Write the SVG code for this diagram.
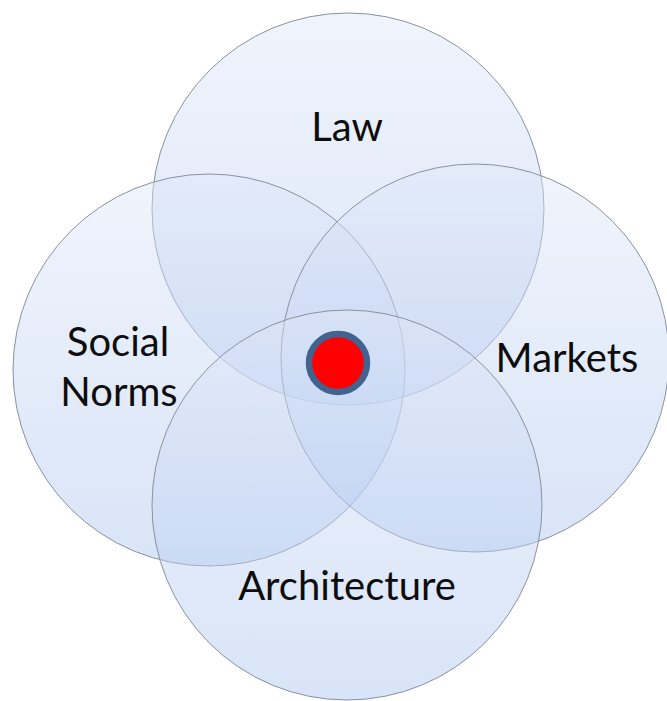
<svg xmlns="http://www.w3.org/2000/svg" width="667" height="701" viewBox="0 0 667 701">
<defs>
<linearGradient id="g" x1="0" y1="0" x2="0" y2="1">
<stop offset="0" stop-color="#dfe7f8"/>
<stop offset="1" stop-color="#a9c3ee"/>
</linearGradient>
<style>
.c{fill:url(#g);fill-opacity:0.45;stroke:#8a92a0;stroke-width:1}
.t{font-family:Lato,"Open Sans","Liberation Sans",sans-serif;font-size:40px;fill:#0d0d0d;text-anchor:middle}
</style>
</defs>
<rect width="667" height="701" fill="#ffffff"/>
<g id="law"><circle class="c" cx="348" cy="209" r="196"/></g>
<g id="social-norms"><circle class="c" cx="209" cy="370" r="196"/></g>
<g id="markets"><circle class="c" cx="475" cy="358" r="194"/></g>
<g id="architecture"><circle class="c" cx="347" cy="505" r="195"/></g>
<g id="labels">
<text class="t" x="347" y="141">Law</text>
<text class="t" x="118" y="356">Social</text>
<text class="t" x="119" y="406">Norms</text>
<text class="t" x="567" y="372">Markets</text>
<text class="t" x="347" y="600">Architecture</text>
</g>
<g id="center"><circle cx="338" cy="363" r="29" fill="#ff0000" stroke="#41638f" stroke-width="6.5"/></g>
<g id="connectors"></g>
</svg>
